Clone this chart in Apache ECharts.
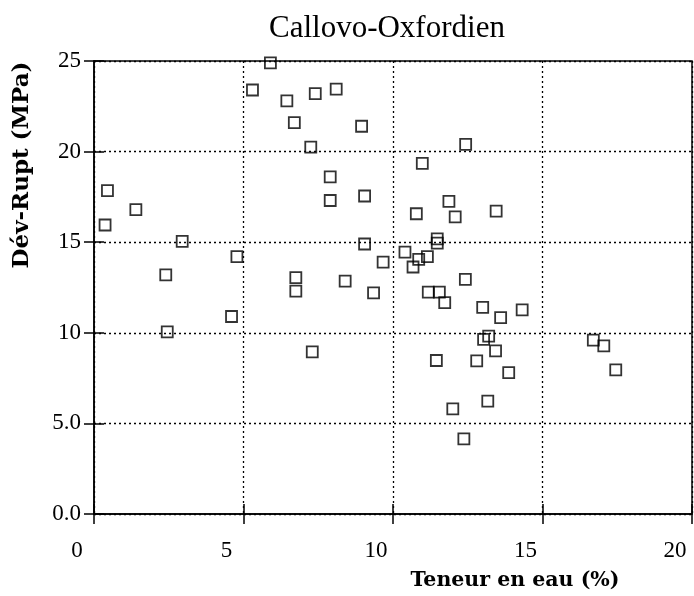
<!DOCTYPE html>
<html>
<head>
<meta charset="utf-8">
<script src="https://cdn.jsdelivr.net/npm/echarts@6/dist/echarts.min.js"></script>
<style>html,body{margin:0;padding:0;background:#fff}#c{width:694px;height:596px}</style>
</head>
<body>
<div id="c"></div>
<script>
const titleText = 'Callovo-Oxfordien';
const xName = 'Teneur en eau (%)';
const yName = 'Dév-Rupt (MPa)';
const xTicks = [0, 5, 10, 15, 20];
const yTickLabels = {0: '0.0', 5: '5.0', 10: '10', 15: '15', 20: '20', 25: '25'};
const waterContent = [
  5.9, 5.3, 6.45, 7.4, 8.1, 6.7, 8.95, 7.25, 7.9, 7.9, 9.05,
  0.45, 1.4, 0.37, 2.95, 4.78, 9.05, 2.4, 6.75, 6.75, 8.4, 9.35, 4.6, 2.45, 7.3,
  12.43, 10.98, 11.87, 10.78, 12.08, 13.45, 11.48, 11.48, 10.4, 11.15, 10.86, 10.67, 9.67,
  12.42, 11.18, 11.55, 11.73, 13.0, 13.6, 14.32, 13.2, 13.03, 13.43, 11.45, 12.8, 13.87,
  13.17, 12.0, 12.37, 16.7, 17.05, 17.45
];
const devRupt = [
  24.9, 23.4, 22.8, 23.2, 23.45, 21.6, 21.4, 20.25, 18.6, 17.3, 17.55,
  17.85, 16.8, 15.95, 15.05, 14.2, 14.9, 13.2, 13.05, 12.3, 12.85, 12.2, 10.9, 10.05, 8.95,
  20.4, 19.35, 17.25, 16.57, 16.4, 16.72, 15.18, 14.95, 14.45, 14.2, 14.05, 13.63, 13.9,
  12.95, 12.25, 12.25, 11.66, 11.4, 10.84, 11.27, 9.82, 9.64, 9.0, 8.47, 8.45, 7.8,
  6.23, 5.8, 4.15, 9.6, 9.28, 7.95
];
const points = waterContent.map((x, i) => [x, devRupt[i]]);

const chart = echarts.init(document.getElementById('c'), null, {renderer: 'canvas'});
const serif = '"Liberation Serif", "Times New Roman", serif';
const boldSerif = '"DejaVu Serif", serif';
const gridLine = {show: true, lineStyle: {color: '#000', type: [2, 3], width: 1.3}};
const innerTick = {show: true, inside: true, length: 10, lineStyle: {color: '#000', width: 1.5}};
chart.setOption({
  animation: false,
  backgroundColor: '#fff',
  title: {
    text: titleText, left: 264, top: 8,
    textStyle: {fontFamily: serif, fontSize: 31, fontWeight: 'normal', color: '#000'}
  },
  grid: {left: 94, right: 2, top: 61, bottom: 82, show: true, borderColor: '#000', borderWidth: 1.5},
  xAxis: [{
    type: 'value', min: 0, max: 20, interval: 5,
    name: xName, nameLocation: 'middle', nameGap: 56,
    nameTextStyle: {fontFamily: boldSerif, fontWeight: 'bold', fontSize: 20.5, color: '#000', padding: [0, 0, 0, 244]},
    axisLine: {show: true, lineStyle: {color: '#000', width: 1.5}},
    axisTick: innerTick,
    axisLabel: {fontFamily: serif, fontSize: 23, color: '#000', margin: 25, padding: [0, 34, 0, 0]},
    splitLine: gridLine
  }, {
    type: 'value', position: 'top', min: 0, max: 20, interval: 5,
    axisLine: {show: false}, axisLabel: {show: false}, splitLine: {show: false},
    axisTick: innerTick
  }],
  yAxis: [{
    type: 'value', min: 0, max: 25, interval: 5,
    name: yName, nameLocation: 'middle', nameGap: 60, nameRotate: 90,
    nameTextStyle: {fontFamily: boldSerif, fontWeight: 'bold', fontSize: 23, color: '#000', padding: [0, 0, 0, 245]},
    axisLine: {show: true, lineStyle: {color: '#000', width: 1.5}},
    axisTick: innerTick,
    axisLabel: {fontFamily: serif, fontSize: 23, color: '#000', margin: 13, formatter: v => yTickLabels[v]},
    splitLine: gridLine
  }, {
    type: 'value', position: 'right', min: 0, max: 25, interval: 5,
    axisLine: {show: false}, axisLabel: {show: false}, splitLine: {show: false},
    axisTick: innerTick
  }],
  series: [{
    type: 'scatter', data: points, symbol: 'rect', symbolSize: 11,
    itemStyle: {color: 'rgba(0,0,0,0)', borderColor: '#000', borderWidth: 1.8},
    emphasis: {disabled: true}
  }]
});
</script>
</body>
</html>
